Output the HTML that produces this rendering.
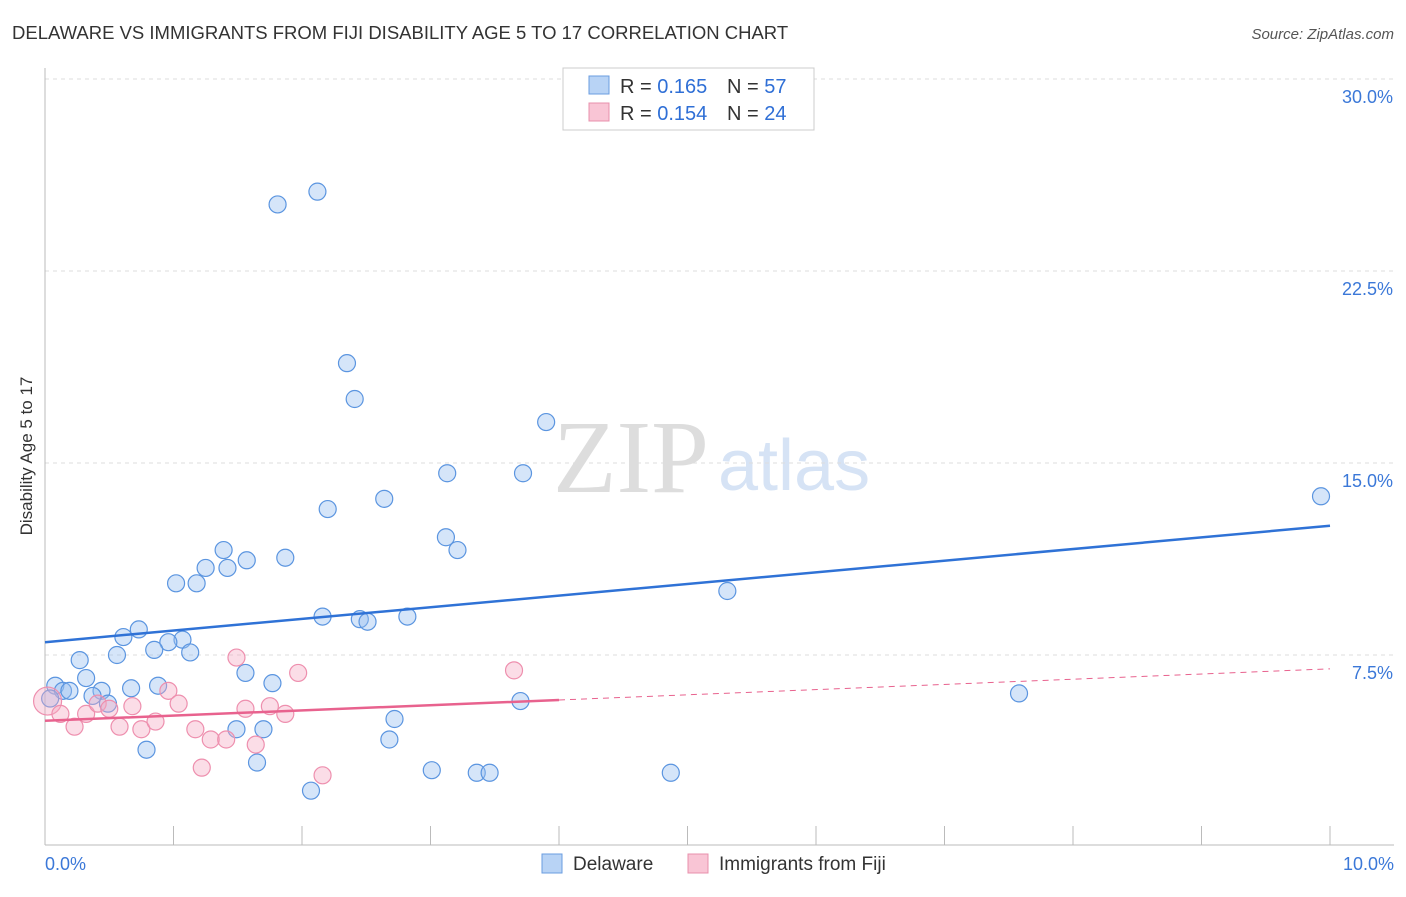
<!DOCTYPE html>
<html><head><meta charset="utf-8"><style>
body{margin:0;background:#fff;font-family:"Liberation Sans",sans-serif}
</style></head><body>
<svg id="chart" width="1406" height="892" font-family="Liberation Sans, sans-serif">
<text x="12" y="39" font-size="18.5" fill="#333">DELAWARE VS IMMIGRANTS FROM FIJI DISABILITY AGE 5 TO 17 CORRELATION CHART</text>
<text x="1394" y="39" font-size="15" fill="#555" font-style="italic" text-anchor="end">Source: ZipAtlas.com</text>
<text x="32" y="456" font-size="17" fill="#333" transform="rotate(-90 32 456)" text-anchor="middle">Disability Age 5 to 17</text>
<text x="553" y="492" font-size="104" fill="#ddd" style="font-family:'Liberation Serif',serif">ZIP</text>
<text x="718" y="490" font-size="72" fill="#d6e3f5">atlas</text>
<g id="grid"></g><g id="marks"></g>
<g>
<rect x="563" y="68" width="251" height="62" fill="#fff" stroke="#ccc"/>
<rect x="589" y="76" width="20" height="18" fill="#b8d3f5" stroke="#6a9de0"/>
<rect x="589" y="103" width="20" height="18" fill="#f9c5d5" stroke="#e890ac"/>
<text x="620" y="93" font-size="20" fill="#333">R = <tspan fill="#2f6fd6">0.165</tspan></text>
<text x="727" y="93" font-size="20" fill="#333">N = <tspan fill="#2f6fd6">57</tspan></text>
<text x="620" y="120" font-size="20" fill="#333">R = <tspan fill="#2f6fd6">0.154</tspan></text>
<text x="727" y="120" font-size="20" fill="#333">N = <tspan fill="#2f6fd6">24</tspan></text>
</g>
<g>
<rect x="542" y="854" width="20" height="19" fill="#b8d3f5" stroke="#6a9de0"/>
<text x="573" y="870" font-size="19" fill="#333">Delaware</text>
<rect x="688" y="854" width="20" height="19" fill="#f9c5d5" stroke="#e890ac"/>
<text x="719" y="870" font-size="19" fill="#333">Immigrants from Fiji</text>
</g>
</svg>
<script>
const yTicks=[7.5,15,22.5,30];
const xTickLabels=["0.0%","10.0%"];
const blueX=[1.81,2.12,2.35,2.41,3.9,3.13,3.72,2.64,2.2,9.93,3.12,3.21,1.39,1.57,1.87,1.25,1.42,1.02,1.18,5.31,2.16,2.45,2.51,2.82,0.73,0.61,1.07,0.96,0.85,1.13,0.56,0.27,1.56,0.32,1.77,0.88,0.67,0.08,0.14,0.19,0.44,0.37,0.49,7.58,3.7,2.72,1.49,1.7,2.68,0.79,1.65,3.01,3.36,3.46,4.87,2.07,0.04];
const blueY=[25.1,25.6,18.9,17.5,16.6,14.6,14.6,13.6,13.2,13.7,12.1,11.6,11.6,11.2,11.3,10.9,10.9,10.3,10.3,10.0,9.0,8.9,8.8,9.0,8.5,8.2,8.1,8.0,7.7,7.6,7.5,7.3,6.8,6.6,6.4,6.3,6.2,6.3,6.1,6.1,6.1,5.9,5.6,6.0,5.7,5.0,4.6,4.6,4.2,3.8,3.3,3.0,2.9,2.9,2.9,2.2,5.8];
const pinkX=[0.02,0.12,0.23,0.32,0.41,0.5,0.58,0.68,0.75,0.86,0.96,1.04,1.17,1.29,1.41,1.49,1.56,1.64,1.75,1.87,1.97,2.16,3.65,1.22];
const pinkY=[5.7,5.2,4.7,5.2,5.6,5.4,4.7,5.5,4.6,4.9,6.1,5.6,4.6,4.2,4.2,7.4,5.4,4.0,5.5,5.2,6.8,2.8,6.9,3.1];
const trendBlue=[8.0,12.55];
const trendPink=[4.93,6.96];
const pinkSolidEnd=4.0;
const X=v=>45+v/10*1285, Y=v=>847-v/7.5*192;
const NS="http://www.w3.org/2000/svg";
const g=document.getElementById('grid'),m=document.getElementById('marks');
function el(t,a,p){const e=document.createElementNS(NS,t);for(const k in a)e.setAttribute(k,a[k]);p.appendChild(e);return e;}
yTicks.forEach(t=>{
 const l=el('line',{x1:45,x2:1394,y1:Y(t),y2:Y(t),stroke:'#ddd','stroke-dasharray':'4,4'},g);
 
 
 const tx=el('text',{x:1393,y:Y(t)+24,'font-size':18,fill:'#3b78d8','text-anchor':'end'},g);tx.textContent=t.toFixed(1)+'%';
 
 
});
el('line',{x1:45,x2:45,y1:68,y2:845,stroke:'#bbb'},g);
el('line',{x1:45,x2:1394,y1:845,y2:845,stroke:'#bbb'},g);
for(let i=1;i<=10;i++){el('line',{x1:45+i*128.5,x2:45+i*128.5,y1:826,y2:845,stroke:'#bbb'},g);}
xTickLabels.forEach((s,i)=>{const t=el('text',{x:i?1394:45,y:870,'font-size':18,fill:'#3b78d8','text-anchor':i?'end':'start'},g);t.textContent=s;
 
 });
blueX.forEach((x,i)=>{const c=el('circle',{cx:X(x),cy:Y(blueY[i]),r:8.5,fill:'rgba(150,190,240,0.4)',stroke:'#5b95e0','stroke-width':1.2},m);
 
 });
pinkX.forEach((x,i)=>{const c=el('circle',{cx:X(x),cy:Y(pinkY[i]),r:i==0?14:8.5,fill:'rgba(245,170,195,0.4)',stroke:'#ee8fae','stroke-width':1.2},m);
 
 });
const pl=x=>trendPink[0]+(trendPink[1]-trendPink[0])*x/10;
let a=el('line',{x1:X(0),y1:Y(trendBlue[0]),x2:X(10),y2:Y(trendBlue[1]),stroke:'#2f72d6','stroke-width':2.5},m);


a=el('line',{x1:X(0),y1:Y(pl(0)),x2:X(pinkSolidEnd),y2:Y(pl(pinkSolidEnd)),stroke:'#e8628e','stroke-width':2.5},m);


a=el('line',{x1:X(pinkSolidEnd),y1:Y(pl(pinkSolidEnd)),x2:X(10),y2:Y(pl(10)),stroke:'#e8628e','stroke-width':1,'stroke-dasharray':'6,5'},m);


</script>
</body></html>
